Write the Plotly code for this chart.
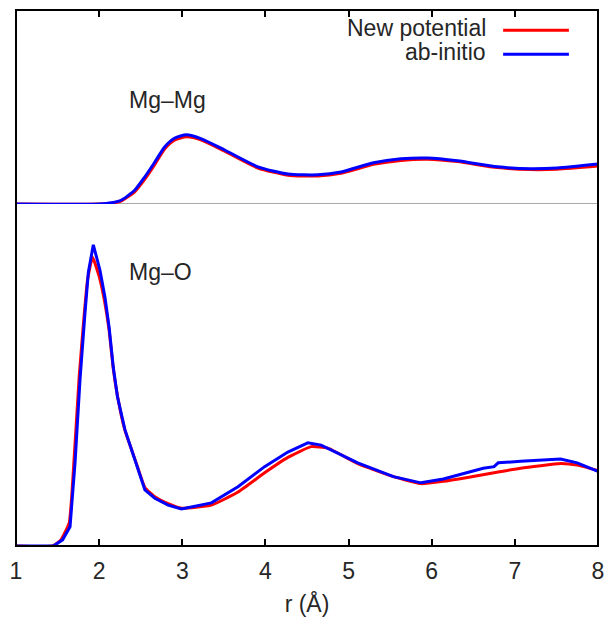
import plotly.graph_objects as go
from plotly.subplots import make_subplots

# ---- data ----
r_mgmg = [1.0, 2.0, 2.15, 2.27, 2.43, 2.55, 2.67, 2.79, 2.91, 3.05, 3.23, 3.51, 3.91,
          4.27, 4.63, 4.91, 5.30, 5.63, 5.95, 6.31, 6.79, 7.19, 7.51, 8.0]
g_mgmg_abinitio = [0, 0, 0.03, 0.10, 0.35, 0.68, 1.05, 1.43, 1.65, 1.73, 1.63, 1.35, 0.93,
                   0.75, 0.73, 0.80, 1.03, 1.13, 1.15, 1.08, 0.93, 0.88, 0.90, 1.00]
g_mgmg_new = [0, 0, 0.02, 0.08, 0.31, 0.62, 0.99, 1.38, 1.60, 1.68, 1.60, 1.32, 0.90,
              0.72, 0.70, 0.77, 0.99, 1.09, 1.12, 1.06, 0.91, 0.86, 0.87, 0.95]

r_mgo_abinitio = [1.0, 1.45, 1.56, 1.65, 1.71, 1.77, 1.83, 1.87, 1.93, 2.01, 2.07, 2.12,
                  2.17, 2.22, 2.27, 2.31, 2.39, 2.47, 2.55, 2.67, 2.83, 2.99, 3.35, 3.67,
                  3.99, 4.27, 4.51, 4.67, 5.11, 5.54, 5.87, 6.14, 6.43, 6.62, 6.75, 6.80,
                  7.07, 7.55, 7.75, 8.0]
g_mgo_abinitio = [0, 0, 0.08, 0.25, 1.08, 2.16, 3.03, 3.55, 3.91, 3.58, 3.23, 2.84,
                  2.32, 1.94, 1.70, 1.51, 1.25, 0.99, 0.73, 0.62, 0.53, 0.48, 0.56, 0.77,
                  1.03, 1.22, 1.34, 1.31, 1.08, 0.90, 0.82, 0.87, 0.95, 1.01, 1.03, 1.08,
                  1.10, 1.13, 1.08, 0.97]
r_mgo_new = [1.0, 1.44, 1.54, 1.64, 1.70, 1.76, 1.82, 1.86, 1.92, 2.00, 2.07, 2.12, 2.17,
             2.22, 2.31, 2.39, 2.47, 2.55, 2.67, 2.83, 2.99, 3.35, 3.67, 3.99, 4.27, 4.55,
             4.75, 5.11, 5.54, 5.87, 6.14, 6.43, 6.80, 7.07, 7.55, 7.75, 8.0]
g_mgo_new = [0, 0, 0.08, 0.30, 1.15, 2.20, 3.00, 3.45, 3.75, 3.50, 3.15, 2.80, 2.30,
             1.95, 1.50, 1.25, 1.00, 0.76, 0.64, 0.55, 0.49, 0.53, 0.70, 0.95, 1.15, 1.29,
             1.27, 1.07, 0.90, 0.81, 0.84, 0.89, 0.96, 1.01, 1.07, 1.05, 0.98]

x_ticks = [1, 2, 3, 4, 5, 6, 7, 8]
series_names = ["New potential", "ab-initio"]
series_colors = ["#ff0000", "#0000ff"]
panel_labels = ["Mg\u2013Mg", "Mg\u2013O"]

FONT = "Liberation Sans, Arial, sans-serif"
TXT = "#262626"
FS = 23

fig = make_subplots(rows=2, cols=1, shared_xaxes=True, vertical_spacing=0,
                    row_heights=[194, 342])

# top panel: Mg-Mg
fig.add_trace(go.Scatter(x=r_mgmg, y=g_mgmg_new, mode="lines", name=series_names[0],
                         line=dict(color=series_colors[0], width=3, shape="spline", smoothing=0.6),
                         showlegend=False), row=1, col=1)
fig.add_trace(go.Scatter(x=r_mgmg, y=g_mgmg_abinitio, mode="lines", name=series_names[1],
                         line=dict(color=series_colors[1], width=3, shape="spline", smoothing=0.6),
                         showlegend=False), row=1, col=1)
# bottom panel: Mg-O
fig.add_trace(go.Scatter(x=r_mgo_new, y=g_mgo_new, mode="lines", name=series_names[0],
                         line=dict(color=series_colors[0], width=3, shape="spline", smoothing=0.4),
                         showlegend=False), row=2, col=1)
fig.add_trace(go.Scatter(x=r_mgo_abinitio, y=g_mgo_abinitio, mode="lines", name=series_names[1],
                         line=dict(color=series_colors[1], width=3),
                         showlegend=False), row=2, col=1)

# axes
fig.update_xaxes(range=[1, 8], tickvals=x_ticks, showgrid=False, zeroline=False,
                 showline=False, ticks="inside", ticklen=7, tickwidth=1.5, tickcolor="black")
fig.update_xaxes(side="top", showticklabels=False, row=1, col=1)
fig.update_xaxes(row=2, col=1, tickfont=dict(family=FONT, size=FS, color=TXT),
                 ticklabelstandoff=9, ticklabeloverflow="allow",
                 title=dict(text="r (\u00c5)", font=dict(family=FONT, size=FS, color=TXT),
                            standoff=12))
fig.update_yaxes(showgrid=False, zeroline=False, showline=False, showticklabels=False,
                 ticks="")
fig.update_yaxes(range=[0, 4.85], row=1, col=1)
fig.update_yaxes(range=[0, 4.44], row=2, col=1)

# gray zero line of top panel
fig.add_shape(type="line", xref="x domain", yref="y", x0=0, x1=1, y0=0, y1=0,
              line=dict(color="#8c8c8c", width=1.5), layer="below")
# frame
fig.add_shape(type="rect", xref="paper", yref="paper", x0=0, x1=1, y0=0, y1=1,
              line=dict(color="black", width=2), layer="above")

# panel labels
fig.add_annotation(x=2.34, y=0.832, xref="x", yref="paper", text=panel_labels[0],
                   showarrow=False, xanchor="left", yanchor="middle",
                   font=dict(family=FONT, size=FS, color=TXT))
fig.add_annotation(x=2.34, y=0.511, xref="x", yref="paper", text=panel_labels[1],
                   showarrow=False, xanchor="left", yanchor="middle",
                   font=dict(family=FONT, size=FS, color=TXT))

# legend (text on the left, sample line on the right, as in the reference)
leg_y = [0.9664, 0.9216]
for name, col, yy in zip(series_names, series_colors, leg_y):
    fig.add_annotation(x=0.8116, y=yy, xref="paper", yref="paper", text=name,
                       showarrow=False, xanchor="right", yanchor="middle",
                       font=dict(family=FONT, size=FS, color=TXT))
    fig.add_shape(type="line", xref="paper", yref="paper", x0=0.837, x1=0.950,
                  y0=yy - 0.004, y1=yy - 0.004, line=dict(color=col, width=3))

# page body adds an 8 px offset, so the figure is 8 px smaller with shifted margins
fig.update_layout(width=608, height=610, margin=dict(l=6, r=18, t=2, b=72),
                  plot_bgcolor="white", paper_bgcolor="white", showlegend=False)

fig.write_html("out.html")
